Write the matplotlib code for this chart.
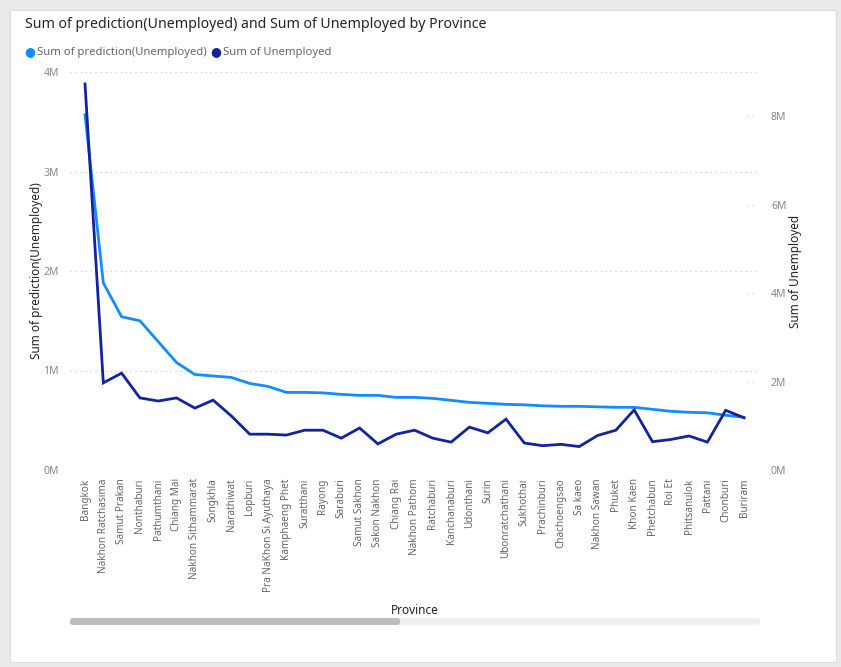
import numpy as np
import matplotlib
matplotlib.use("Agg")
import matplotlib.pyplot as plt
from matplotlib.patches import FancyBboxPatch, Rectangle
from matplotlib.ticker import FuncFormatter

# data
provinces = ["Bangkok", "Nakhon Ratchasima", "Samut Prakan", "Nonthaburi", "Pathumthani",
             "Chiang Mai", "Nakhon Sithammarat", "Songkhla", "Narathiwat", "Lopburi",
             "Pra NaKhon Si Ayuthaya", "Kamphaeng Phet", "Suratthani", "Rayong", "Saraburi",
             "Samut Sakhon", "Sakon Nakhon", "Chiang Rai", "Nakhon Pathom", "Ratchaburi",
             "Kanchanaburi", "Udonthani", "Surin", "Ubonratchathani", "Sukhothai",
             "Prachinburi", "Chachoengsao", "Sa kaeo", "Nakhon Sawan", "Phuket",
             "Khon Kaen", "Phetchabun", "Roi Et", "Phitsanulok", "Pattani",
             "Chonburi", "Buriram"]

# Sum of prediction(Unemployed), millions (left axis)
prediction = [3.57, 1.88, 1.54, 1.50, 1.29, 1.08, 0.96, 0.945, 0.93, 0.87,
              0.84, 0.78, 0.78, 0.775, 0.76, 0.75, 0.75, 0.73, 0.73, 0.72,
              0.70, 0.68, 0.67, 0.66, 0.655, 0.645, 0.64, 0.64, 0.635, 0.63,
              0.63, 0.61, 0.59, 0.58, 0.575, 0.55, 0.53]

# Sum of Unemployed, millions (right axis)
unemployed = [8.73, 1.97, 2.19, 1.63, 1.56, 1.63, 1.40, 1.58, 1.22, 0.81,
              0.81, 0.79, 0.90, 0.90, 0.72, 0.95, 0.59, 0.81, 0.90, 0.72,
              0.63, 0.97, 0.84, 1.15, 0.61, 0.55, 0.58, 0.53, 0.78, 0.90,
              1.36, 0.64, 0.69, 0.77, 0.63, 1.35, 1.18]

left_ticks = [0, 1, 2, 3, 4]
right_ticks = [0, 2, 4, 6, 8]

LIGHT = "#118DFF"
DARK = "#12239E"
GREY = "#666666"

plt.rcParams["font.family"] = ["Noto Sans", "DejaVu Sans"]

W, H = 841, 667
fig = plt.figure(figsize=(W / 100, H / 100), dpi=100)
fig.patch.set_facecolor("#EAEAEA")

def fx(px):
    return px / W

def fy(py):
    return 1 - py / H

# white card behind everything
fig.patches.append(Rectangle((fx(10), fy(662)), fx(826), fy(10) - fy(662),
                             transform=fig.transFigure, facecolor="white",
                             edgecolor="#DDDDDD", lw=0.8, zorder=-5))

ax = fig.add_axes([fx(70), fy(470), fx(757) - fx(70), fy(72) - fy(470)])
ax.set_facecolor("none")
x = np.arange(len(provinces))
ax.plot(x, prediction, color=LIGHT, lw=2.0, solid_joinstyle="miter", zorder=3)
ax.set_xlim(-0.82, len(provinces) - 1 + 0.71)
ax.set_ylim(0, 4)
ax.set_yticks(left_ticks)
ax.yaxis.set_major_formatter(FuncFormatter(lambda v, p: "%dM" % v))
ax.grid(axis="y", color="#CCCCCC", linestyle=(0, (1, 3)), lw=0.9)
ax.set_xticks(x)
ax.set_xticklabels(provinces, rotation=90, fontsize=7.2, color=GREY)
ax.tick_params(axis="both", length=0)
ax.tick_params(axis="x", pad=6)
ax.tick_params(axis="y", labelsize=7.5, labelcolor="#888888", pad=8)
for s in ax.spines.values():
    s.set_visible(False)
ax.set_ylabel("Sum of prediction(Unemployed)", fontsize=8.5, color="#252423", labelpad=0)

ax2 = ax.twinx()
ax2.plot(x, unemployed, color=DARK, lw=2.0, solid_joinstyle="miter", zorder=4)
ax2.set_ylim(0, 9.0)
ax2.set_yticks(right_ticks)
ax2.yaxis.set_major_formatter(FuncFormatter(lambda v, p: "%dM" % v))
ax2.tick_params(axis="y", length=0, labelsize=7.5, labelcolor="#888888", pad=10)
for t in right_ticks:
    ax2.axhline(t, xmin=0.985, xmax=1.0, color="#CCCCCC", linestyle=(0, (1, 3)), lw=0.9)
for s in ax2.spines.values():
    s.set_visible(False)
ax2.set_ylabel("Sum of Unemployed", fontsize=8.5, color="#252423", labelpad=2)

# title and legend
fig.text(fx(25), fy(25), "Sum of prediction(Unemployed) and Sum of Unemployed by Province",
         fontsize=10.2, color="#252423", va="center", ha="left")
fig.text(fx(30), fy(52), "\u25CF", color=LIGHT, fontsize=9, va="center", ha="center")
fig.text(fx(37), fy(52), "Sum of prediction(Unemployed)", color=GREY, fontsize=8.1,
         va="center", ha="left")
fig.text(fx(216), fy(52), "\u25CF", color=DARK, fontsize=9, va="center", ha="center")
fig.text(fx(223), fy(52), "Sum of Unemployed", color=GREY, fontsize=8.1,
         va="center", ha="left")

fig.text(fx(415), fy(611), "Province", fontsize=8.5, color="#252423", fontweight="bold",
         va="center", ha="center")

# scrollbar
fig.patches.append(FancyBboxPatch((fx(70), fy(625)), fx(760) - fx(70), fy(618) - fy(625),
                                  boxstyle="round,pad=0,rounding_size=0.004",
                                  transform=fig.transFigure, facecolor="#EFEFEF",
                                  edgecolor="none"))
fig.patches.append(FancyBboxPatch((fx(70), fy(625)), fx(400) - fx(70), fy(618) - fy(625),
                                  boxstyle="round,pad=0,rounding_size=0.004",
                                  transform=fig.transFigure, facecolor="#BDBDBD",
                                  edgecolor="none"))

fig.savefig("out.png", dpi=100, facecolor=fig.get_facecolor())
